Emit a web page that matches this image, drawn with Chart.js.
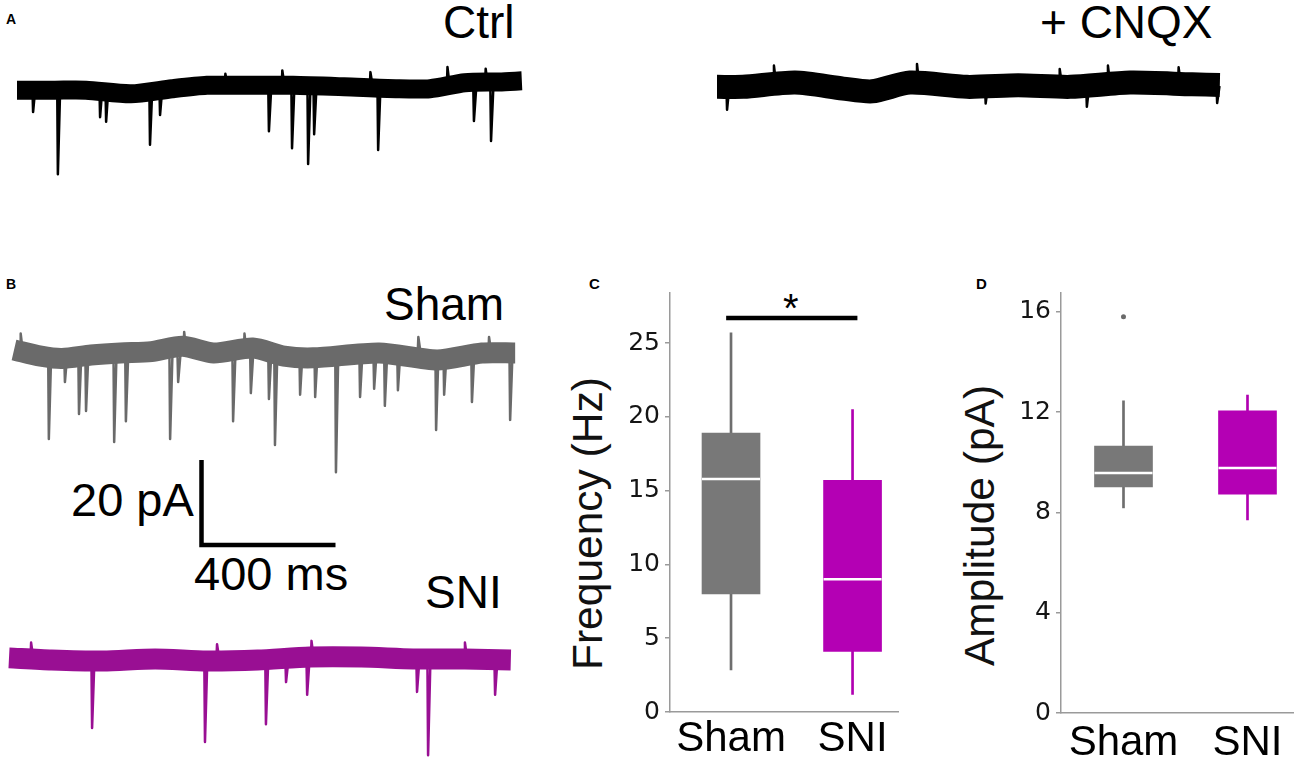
<!DOCTYPE html>
<html>
<head>
<meta charset="utf-8">
<title>sEPSC traces, frequency and amplitude</title>
<script src="https://cdn.jsdelivr.net/npm/chart.js@4.4.1/dist/chart.umd.min.js"></script>
<style>
  body { margin: 0; width: 1300px; height: 759px; position: relative; overflow: hidden; background: #fff;
         font-family: "Liberation Sans", Arial, sans-serif; }
  canvas { position: absolute; }
  .txt { position: absolute; line-height: 1; white-space: nowrap; color: #000; }
  .big { font-size: 46px; }
  .panel { font-weight: bold; }
  .ytitle { font-size: 42.5px; transform-origin: 0 0; transform: rotate(-90deg); color: #111; }
</style>
</head>
<body>
<div class="txt panel" style="left:6px;top:12px;font-size:14px">A</div>
<div class="txt panel" style="left:6px;top:277px;font-size:14px">B</div>
<div class="txt panel" style="left:589px;top:276px;font-size:15px">C</div>
<div class="txt panel" style="left:976px;top:276px;font-size:15px">D</div>

<div class="txt big" style="left:443px;top:-1px">Ctrl</div>
<div class="txt big" style="left:1040px;top:-1px">+ CNQX</div>
<div class="txt big" style="left:384px;top:281px">Sham</div>
<div class="txt big" style="left:425px;top:569px">SNI</div>
<div class="txt" style="left:71px;top:476px;font-size:47px">20 pA</div>
<div class="txt" style="left:194px;top:550px;font-size:47px">400 ms</div>

<div class="txt ytitle" style="left:567px;top:670px">Frequency (Hz)</div>
<div class="txt ytitle" style="left:959px;top:666px">Amplitude (pA)</div>
<div class="txt" style="left:783px;top:288px;font-size:40px">*</div>

<canvas id="ctrl"></canvas>
<canvas id="cnqx"></canvas>
<canvas id="sham"></canvas>
<canvas id="sni"></canvas>
<canvas id="scalebar"></canvas>
<canvas id="freq"></canvas>
<canvas id="amp"></canvas>

<script>
// ---------- traces: baseline level (pA) at times (ms), events/noise peaks as time + peak (pA) ----------
const CTRL_BASE_T  = [0, 113, 206, 340, 463, 567, 669, 824, 976, 1131, 1233, 1337, 1439, 1507];
const CTRL_BASE_PA = [-0.75, -0.75, -0.75, -1.6, -0.4, 0.4, 0.4, 0.4, 0.05, -0.4, -0.4, 1.0, 1.2, 1.45];
const CTRL_EVENT_T  = [48, 122, 248, 266, 397, 427, 622, 752, 792, 821, 869, 887, 1055, 1078, 1285, 1364, 1399, 1415];
const CTRL_EVENT_PA = [-5.9, -20.5, -7.1, -8.2, -13.6, -6.6, 3.1, -10.4, 3.9, -14.4, -18.1, -11.1, 3.5, -14.8, 4.7, -8.0, 4.3, -12.7];

const CNQX_BASE_T  = [0, 78, 233, 376, 463, 576, 746, 899, 1054, 1233, 1418, 1501];
const CNQX_BASE_PA = [-0.2, -0.2, 0.8, -0.6, -1.25, 0.8, -0.2, 0.15, -0.2, 0.8, 0.4, 0.25];
const CNQX_EVENT_T  = [30, 170, 442, 597, 802, 1023, 1104, 1167, 1378, 1493];
const CNQX_EVENT_PA = [-5.6, 4.8, -3.7, 5.2, -4.1, 4.0, -4.9, 4.8, 4.4, -4.0];

const SHAM_BASE_T  = [0, 80, 143, 230, 318, 410, 503, 596, 713, 806, 893, 1090, 1263, 1397, 1496];
const SHAM_BASE_PA = [0.95, -0.5, -1.05, -0.25, 0.25, 0.55, 1.8, 0.25, 1.4, -0.5, -0.9, 0.25, -1.4, 0.25, 0.25];
const SHAM_EVENT_T  = [20, 104, 152, 194, 215, 299, 334, 466, 490, 508, 654, 688, 707, 761, 779, 854, 899, 961,
                       1033, 1075, 1107, 1146, 1207, 1260, 1284, 1367, 1418, 1481];
const SHAM_EVENT_PA = [4.8, -20.0, -6.6, -14.1, -13.4, -20.7, -15.8, -20.0, -6.6, 5.2, -15.8, 4.8, -9.2, -10.6, -21.4, -9.6, -10.1, -27.8,
                       -10.1, -8.2, -12.2, -8.5, 4.0, -17.9, -9.6, -11.3, 4.0, -15.5];

const SNI_BASE_T  = [0, 127, 281, 436, 590, 743, 898, 1052, 1206, 1361, 1498];
const SNI_BASE_PA = [0.5, 0, -0.25, 0.25, -0.25, 0, 0.7, 0.7, 0.25, 0.25, 0];
const SNI_EVENT_T  = [66, 248, 585, 621, 767, 827, 890, 903, 1218, 1251, 1361, 1451];
const SNI_EVENT_PA = [4.1, -16.0, -19.3, 3.7, -15.1, -5.2, -8.2, 4.5, -7.5, -22.4, 4.1, -8.2];

const SCALE_MS = 400;
const SCALE_PA = 20;

// ---------- box plots ----------
const GROUPS = ['Sham', 'SNI'];
const FREQ_MIN = [2.85, 1.2];
const FREQ_Q1  = [8.0, 4.1];
const FREQ_MED = [15.8, 9.0];
const FREQ_Q3  = [18.9, 15.7];
const FREQ_MAX = [25.7, 20.5];
const FREQ_SIG_Y = 26.7;

const AMP_MIN = [8.18, 7.7];
const AMP_Q1  = [9.02, 8.73];
const AMP_MED = [9.57, 9.77];
const AMP_Q3  = [10.65, 12.05];
const AMP_MAX = [12.45, 12.68];
const AMP_OUTLIERS = [[15.8], []];

// ---------- styling ----------
const FONT = '"Liberation Sans", Arial, sans-serif';
const AXIS_GREY = '#9a9a9a';
const BOX_COLORS = ['#787878', '#b400b4'];
const WHISKER_COLORS = ['#6e6e6e', '#b000b0'];
const PX_PER_MS = 0.335;
const PX_PER_PA = 4.25;

function traceSets(baseT, basePA, evT, evPA, color, band) {
  const spikes = [];
  evT.forEach((t, i) => {
    spikes.push({x: t - 2, y: 0}, {x: t, y: evPA[i]}, {x: t + 7, y: 0}, {x: t + 7, y: null});
  });
  return [
    { data: baseT.map((t, i) => ({x: t, y: basePA[i]})), borderColor: color, borderWidth: band,
      borderJoinStyle: 'round', pointRadius: 0, tension: 0.25, clip: false },
    { data: spikes, borderColor: color, borderWidth: 2.5, borderJoinStyle: 'round',
      pointRadius: 0, spanGaps: false, clip: false }
  ];
}

// rect = canvas box on the page, origin = page pixel of t=0 ms, 0 pA
function traceChart(id, rect, origin, datasets) {
  const c = document.getElementById(id);
  c.width = rect.w; c.height = rect.h;
  c.style.left = rect.x + 'px'; c.style.top = rect.y + 'px';
  return new Chart(c, {
    type: 'line',
    data: { datasets },
    options: {
      animation: false, responsive: false, events: [],
      layout: { padding: 0, autoPadding: false },
      plugins: { legend: { display: false }, tooltip: { enabled: false } },
      scales: {
        x: { type: 'linear', display: false,
             min: (rect.x - origin.x) / PX_PER_MS, max: (rect.x + rect.w - origin.x) / PX_PER_MS },
        y: { type: 'linear', display: false,
             min: (origin.y - rect.y - rect.h) / PX_PER_PA, max: (origin.y - rect.y) / PX_PER_PA }
      }
    }
  });
}

traceChart('ctrl', {x: 5, y: 40, w: 530, h: 150}, {x: 17, y: 87},
  traceSets(CTRL_BASE_T, CTRL_BASE_PA, CTRL_EVENT_T, CTRL_EVENT_PA, '#000', 19));
traceChart('cnqx', {x: 705, y: 40, w: 530, h: 100}, {x: 717, y: 86},
  traceSets(CNQX_BASE_T, CNQX_BASE_PA, CNQX_EVENT_T, CNQX_EVENT_PA, '#000', 24));
traceChart('sham', {x: 5, y: 315, w: 530, h: 170}, {x: 14, y: 354},
  traceSets(SHAM_BASE_T, SHAM_BASE_PA, SHAM_EVENT_T, SHAM_EVENT_PA, '#6a6a6a', 21));
traceChart('sni', {x: 0, y: 620, w: 530, h: 139}, {x: 9, y: 660},
  traceSets(SNI_BASE_T, SNI_BASE_PA, SNI_EVENT_T, SNI_EVENT_PA, '#990f93', 21));
traceChart('scalebar', {x: 190, y: 450, w: 160, h: 105}, {x: 201.5, y: 545}, [{
  data: [{x: 0, y: SCALE_PA}, {x: 0, y: 0}, {x: SCALE_MS, y: 0}],
  borderColor: '#000', borderWidth: 4.5, borderJoinStyle: 'miter', borderCapStyle: 'butt', pointRadius: 0, clip: false
}]);

function boxChart(id, rect, cfg) {
  const c = document.getElementById(id);
  c.width = rect.w; c.height = rect.h;
  c.style.left = rect.x + 'px'; c.style.top = rect.y + 'px';
  const pos = GROUPS.map((g, i) => i + 1);
  const datasets = [
    { type: 'bar', grouped: false, order: 4, barThickness: 2, backgroundColor: WHISKER_COLORS,
      data: pos.map((x, i) => ({x, y: [cfg.min[i], cfg.max[i]]})) },
    { type: 'bar', grouped: false, order: 3, barThickness: 58, backgroundColor: BOX_COLORS,
      data: pos.map((x, i) => ({x, y: [cfg.q1[i], cfg.q3[i]]})) },
    { type: 'scatter', order: 2, pointStyle: 'line', pointRadius: 29, borderColor: '#fff', borderWidth: 2.5,
      data: pos.map((x, i) => ({x, y: cfg.med[i]})) }
  ];
  if (cfg.outliers) {
    datasets.push({ type: 'scatter', order: 1, pointRadius: 2.5, borderWidth: 0, backgroundColor: '#6a6a6a',
      data: cfg.outliers.flatMap((vals, i) => vals.map(v => ({x: pos[i], y: v}))) });
  }
  if (cfg.sigY !== undefined) {
    datasets.push({ type: 'line', order: 1, borderColor: '#000', borderWidth: 4.5, pointRadius: 0,
      data: [{x: pos[0] - 0.04, y: cfg.sigY}, {x: pos[1] + 0.04, y: cfg.sigY}] });
  }
  return new Chart(c, {
    type: 'bar',
    data: { datasets },
    options: {
      animation: false, responsive: false, events: [],
      layout: { padding: { top: 10, right: 7, left: 0, bottom: 0 }, autoPadding: false },
      plugins: { legend: { display: false }, tooltip: { enabled: false } },
      scales: {
        x: { type: 'linear', offset: false, min: cfg.xMin, max: cfg.xMax,
             afterBuildTicks: s => { s.ticks = pos.map(v => ({value: v})); },
             ticks: { callback: v => GROUPS[v - 1], font: { size: 42, family: FONT }, color: '#000',
                      padding: cfg.xPad, maxRotation: 0, autoSkip: false },
             grid: { display: false, drawTicks: false },
             border: { color: AXIS_GREY, width: 1.5 },
             afterFit: s => { s.height = cfg.xHeight; s.paddingLeft = 0; s.paddingRight = 0; } },
        y: { min: 0, max: cfg.yMax,
             ticks: { stepSize: cfg.yStep, includeBounds: false, font: { size: 25, family: '"DejaVu Sans"' },
                      color: '#151515', padding: 5 },
             grid: { drawOnChartArea: false, drawTicks: true, tickLength: 5, color: AXIS_GREY, lineWidth: 1.5 },
             border: { color: AXIS_GREY, width: 1.5 },
             afterFit: s => { s.width = cfg.yWidth; s.paddingTop = 0; s.paddingBottom = 0; } }
      }
    }
  });
}

boxChart('freq', {x: 600, y: 283, w: 305, h: 476}, {
  min: FREQ_MIN, q1: FREQ_Q1, med: FREQ_MED, q3: FREQ_Q3, max: FREQ_MAX, sigY: FREQ_SIG_Y,
  yMax: 28.4, yStep: 5, xMin: 0.498, xMax: 2.374, yWidth: 70, xHeight: 47, xPad: 2
});
boxChart('amp', {x: 990, y: 283, w: 310, h: 476}, {
  min: AMP_MIN, q1: AMP_Q1, med: AMP_MED, q3: AMP_Q3, max: AMP_MAX, outliers: AMP_OUTLIERS,
  yMax: 16.75, yStep: 4, xMin: 0.496, xMax: 2.367, yWidth: 71, xHeight: 46, xPad: 5
});
</script>
</body>
</html>
